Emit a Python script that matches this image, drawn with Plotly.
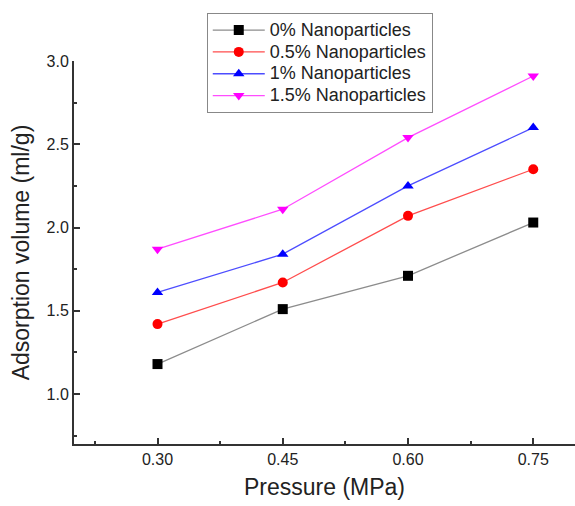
import plotly.graph_objects as go

pressure = [0.30, 0.45, 0.60, 0.75]
series_names = ["0% Nanoparticles", "0.5% Nanoparticles", "1% Nanoparticles", "1.5% Nanoparticles"]
v0 = [1.18, 1.51, 1.71, 2.03]
v05 = [1.42, 1.67, 2.07, 2.35]
v1 = [1.61, 1.84, 2.25, 2.60]
v15 = [1.87, 2.11, 2.54, 2.91]

styles = [
    dict(line="#8c8c8c", marker="#000000", symbol="square"),
    dict(line="#ff4d4d", marker="#ff0000", symbol="circle"),
    dict(line="#4d4dff", marker="#0000ff", symbol="triangle-up"),
    dict(line="#ff4dff", marker="#ff00ff", symbol="triangle-down"),
]

FONT = "Liberation Sans, Arial, sans-serif"

fig = go.Figure()
for name, vals, st in zip(series_names, [v0, v05, v1, v15], styles):
    fig.add_trace(go.Scatter(
        x=pressure, y=vals, name="<span style='font-size:18px'>" + name + "</span>", mode="lines+markers",
        line=dict(color=st["line"], width=1.3),
        marker=dict(color=st["marker"], symbol=st["symbol"], size=10, line=dict(width=0)),
    ))

axis_common = dict(
    showline=True, linecolor="#333333", linewidth=2, showgrid=False, zeroline=False,
    ticks="inside", ticklen=6, tickwidth=1.5, tickcolor="#333333",
    tickfont=dict(family=FONT, size=16, color="#222222"),
    mirror=False, automargin=False,
)

fig.update_xaxes(
    range=[0.2, 0.8], tickvals=pressure, ticktext=["0.30", "0.45", "0.60", "0.75"],
    minor=dict(tickvals=[0.225, 0.375, 0.525, 0.675], ticks="inside", ticklen=3, tickwidth=1.5, tickcolor="#333333"),
    title=dict(text="Pressure (MPa)", font=dict(family=FONT, size=23, color="#222222"), standoff=12),
    **axis_common,
)
fig.update_yaxes(
    range=[0.7, 3.0], tickvals=[1.0, 1.5, 2.0, 2.5, 3.0], ticktext=["1.0", "1.5", "2.0", "2.5", "3.0"],
    minor=dict(tickvals=[0.75, 1.25, 1.75, 2.25, 2.75], ticks="inside", ticklen=3, tickwidth=1.5, tickcolor="#333333"),
    title=dict(text="Adsorption volume (ml/g)", font=dict(family=FONT, size=23, color="#222222"), standoff=10),
    **axis_common,
)

fig.update_layout(
    width=575, height=506,
    margin=dict(l=74, r=0, t=61, b=62, autoexpand=False),
    plot_bgcolor="white", paper_bgcolor="white",
    legend=dict(
        x=0.265, y=1.125, xanchor="left", yanchor="top",
        bordercolor="#888888", borderwidth=1, bgcolor="white",
        font=dict(family=FONT, size=14.5, color="#222222"),
        tracegroupgap=0, itemwidth=52,
    ),
)

fig.write_html("out.html", config={"displayModeBar": False},
               post_script="document.body.style.margin='0';")
